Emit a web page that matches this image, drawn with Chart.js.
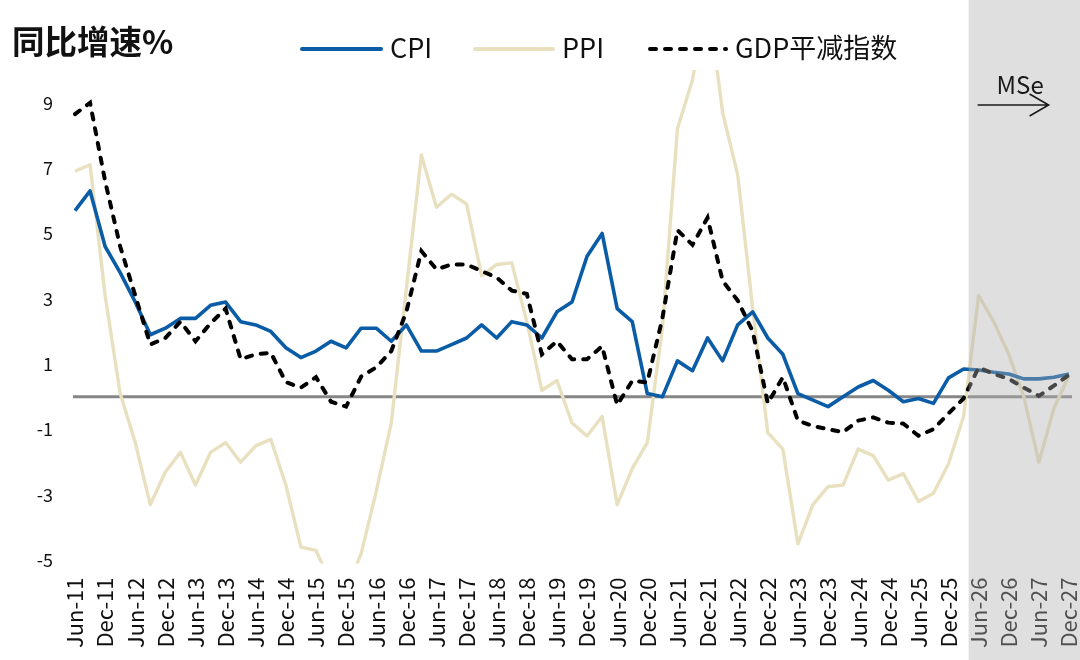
<!DOCTYPE html>
<html>
<head>
<meta charset="utf-8">
<script src="https://cdn.jsdelivr.net/npm/chart.js@4.4.0/dist/chart.umd.min.js"></script>
<style>
html,body{margin:0;padding:0;background:#ffffff;}
#wrap{width:1080px;height:660px;position:relative;}
</style>
</head>
<body>
<div id="wrap"><canvas id="c" width="1080" height="660"></canvas></div>
<script>
const categories = [
  'Jun-11','Sep-11','Dec-11',
  'Mar-12','Jun-12','Sep-12','Dec-12',
  'Mar-13','Jun-13','Sep-13','Dec-13',
  'Mar-14','Jun-14','Sep-14','Dec-14',
  'Mar-15','Jun-15','Sep-15','Dec-15',
  'Mar-16','Jun-16','Sep-16','Dec-16',
  'Mar-17','Jun-17','Sep-17','Dec-17',
  'Mar-18','Jun-18','Sep-18','Dec-18',
  'Mar-19','Jun-19','Sep-19','Dec-19',
  'Mar-20','Jun-20','Sep-20','Dec-20',
  'Mar-21','Jun-21','Sep-21','Dec-21',
  'Mar-22','Jun-22','Sep-22','Dec-22',
  'Mar-23','Jun-23','Sep-23','Dec-23',
  'Mar-24','Jun-24','Sep-24','Dec-24',
  'Mar-25','Jun-25','Sep-25','Dec-25',
  'Mar-26','Jun-26','Sep-26','Dec-26',
  'Mar-27','Jun-27','Sep-27','Dec-27'
];
const tickLabels = ['Jun-11','Dec-11','Jun-12','Dec-12','Jun-13','Dec-13','Jun-14','Dec-14','Jun-15','Dec-15','Jun-16','Dec-16','Jun-17','Dec-17','Jun-18','Dec-18','Jun-19','Dec-19','Jun-20','Dec-20','Jun-21','Dec-21','Jun-22','Dec-22','Jun-23','Dec-23','Jun-24','Dec-24','Jun-25','Dec-25','Jun-26','Dec-26','Jun-27','Dec-27'];

const cpi = [
  5.7, 6.3, 4.6,
  3.8, 2.9, 1.9, 2.1,
  2.4, 2.4, 2.8, 2.9,
  2.3, 2.2, 2.0, 1.5,
  1.2, 1.4, 1.7, 1.5,
  2.1, 2.1, 1.7, 2.2,
  1.4, 1.4, 1.6, 1.8,
  2.2, 1.8, 2.3, 2.2,
  1.8, 2.6, 2.9, 4.3,
  5.0, 2.7, 2.3, 0.1,
  0.0, 1.1, 0.8, 1.8,
  1.1, 2.2, 2.6, 1.8,
  1.3, 0.1, -0.1, -0.3,
  0.0, 0.3, 0.5, 0.2,
  -0.15, -0.05, -0.2, 0.58,
  0.85, 0.82, 0.75, 0.7,
  0.55, 0.55, 0.6, 0.7
];
const ppi = [
  6.9, 7.1, 3.1,
  0.1, -1.4, -3.3, -2.3,
  -1.7, -2.7, -1.7, -1.4,
  -2.0, -1.5, -1.3, -2.7,
  -4.6, -4.7, -5.7, -5.9,
  -4.8, -2.9, -0.8, 3.3,
  7.4, 5.8, 6.2, 5.9,
  3.7, 4.05, 4.1, 2.3,
  0.2, 0.5, -0.8, -1.2,
  -0.6, -3.3, -2.2, -1.4,
  2.1, 8.2, 9.7, 12.3,
  8.7, 6.8, 2.7, -1.1,
  -1.6, -4.5, -3.3, -2.75,
  -2.7, -1.6, -1.8, -2.55,
  -2.35, -3.2, -2.95, -2.05,
  -0.6, 3.1, 2.3, 1.3,
  0.0, -2.0, -0.35, 0.65
];
const gdpDeflator = [
  8.65, 9.0, 6.6,
  4.6, 3.1, 1.6, 1.8,
  2.3, 1.7, 2.25, 2.7,
  1.15, 1.3, 1.35, 0.45,
  0.28, 0.6, -0.15, -0.3,
  0.62, 0.9, 1.4, 2.6,
  4.46, 3.9, 4.05, 4.05,
  3.85, 3.65, 3.25, 3.15,
  1.3, 1.7, 1.15, 1.15,
  1.55, -0.25, 0.49, 0.44,
  2.4, 5.1, 4.65, 5.48,
  3.55, 2.95, 2.0, -0.2,
  0.6, -0.73, -0.89, -0.99,
  -1.08, -0.73, -0.63, -0.79,
  -0.82, -1.19, -0.99, -0.51,
  -0.05, 0.9, 0.7, 0.55,
  0.28, 0.03, 0.34, 0.67
];
const yTicks = [-5, -3, -1, 1, 3, 5, 7, 9];
const seriesNames = ['CPI', 'PPI', 'GDP平减指数'];
const titleText = '同比增速%';
const forecastText = 'MSe';
const forecastStartLabel = 'Mar-26';

const FONT = "'Noto Sans CJK SC','Noto Sans',sans-serif";
const COL_CPI = '#0b5ca6';
const COL_PPI = '#e9e0c0';
const COL_GDP = '#000000';
const GDP_DASH = [6, 9];

const decor = {
  id: 'decor',
  beforeDatasetsDraw(chart) {
    const ctx = chart.ctx, ys = chart.scales.y, ca = chart.chartArea;
    const y0 = ys.getPixelForValue(0);
    ctx.save();
    ctx.strokeStyle = '#868686';
    ctx.lineWidth = 3;
    ctx.beginPath();
    ctx.moveTo(ca.left - 2, y0);
    ctx.lineTo(ca.right + 3, y0);
    ctx.stroke();
    ctx.restore();
  },
  afterDraw(chart) {
    const ctx = chart.ctx, xs = chart.scales.x;
    const fi = categories.indexOf(forecastStartLabel);
    const p0 = xs.getPixelForValue(fi), p1 = xs.getPixelForValue(fi + 1);
    const sx = p0 + (p1 - p0) / 3;
    ctx.save();
    // forecast shading
    ctx.fillStyle = 'rgba(175,175,175,0.4)';
    ctx.fillRect(sx, 0, chart.width - sx, chart.height);
    // forecast label and arrow
    ctx.fillStyle = '#1a1a1a';
    ctx.font = '24px ' + FONT;
    ctx.textAlign = 'left';
    ctx.textBaseline = 'alphabetic';
    ctx.fillText(forecastText, sx + 28, 94);
    ctx.strokeStyle = '#1a1a1a';
    ctx.lineWidth = 1.6;
    ctx.beginPath();
    ctx.moveTo(sx + 9, 105);
    ctx.lineTo(sx + 80, 105);
    ctx.moveTo(sx + 61, 94);
    ctx.lineTo(sx + 80, 105);
    ctx.lineTo(sx + 61, 116);
    ctx.stroke();
    // title
    ctx.fillStyle = '#111';
    ctx.font = 'bold 32.5px ' + FONT;
    ctx.textBaseline = 'middle';
    ctx.fillText(titleText, 12, 42);
    // legend
    const items = [
      {name: seriesNames[0], color: COL_CPI, dash: [], x: 302, w: 79, lw: 4},
      {name: seriesNames[1], color: COL_PPI, dash: [], x: 475, w: 78, lw: 4},
      {name: seriesNames[2], color: COL_GDP, dash: GDP_DASH, x: 650, w: 76, lw: 4}
    ];
    ctx.font = '27px ' + FONT;
    items.forEach(it => {
      ctx.strokeStyle = it.color;
      ctx.lineWidth = it.lw;
      ctx.lineCap = 'round';
      ctx.setLineDash(it.dash);
      ctx.beginPath();
      ctx.moveTo(it.x, 49);
      ctx.lineTo(it.x + it.w, 49);
      ctx.stroke();
      ctx.setLineDash([]);
      ctx.fillStyle = '#111';
      ctx.fillText(it.name, it.x + it.w + 9, 48);
    });
    ctx.restore();
  }
};

new Chart(document.getElementById('c'), {
  type: 'line',
  data: {
    labels: categories,
    datasets: [
      {label: seriesNames[0], data: cpi, borderColor: COL_CPI, borderWidth: 3.6, pointRadius: 0, tension: 0, order: 1, borderJoinStyle: 'round'},
      {label: seriesNames[1], data: ppi, borderColor: COL_PPI, borderWidth: 3.4, pointRadius: 0, tension: 0, order: 2, borderJoinStyle: 'round'},
      {label: seriesNames[2], data: gdpDeflator, borderColor: COL_GDP, borderWidth: 4, borderDash: GDP_DASH, borderCapStyle: 'round', pointRadius: 0, tension: 0, order: 0}
    ]
  },
  options: {
    responsive: false,
    devicePixelRatio: 1,
    animation: false,
    layout: {padding: {top: 70, right: 11, left: 0, bottom: 0}},
    plugins: {legend: {display: false}, tooltip: {enabled: false}, title: {display: false}},
    scales: {
      x: {
        type: 'category',
        offset: false,
        grid: {display: false, drawTicks: false},
        border: {display: false},
        afterFit(s) { s.height = 96.5; s.paddingLeft = 0; s.paddingRight = 0; },
        ticks: {
          autoSkip: false,
          maxRotation: 90,
          minRotation: 90,
          padding: 14,
          color: '#111',
          font: {family: FONT, size: 22},
          callback(v, i) { const l = categories[i]; return tickLabels.includes(l) ? l : ''; }
        }
      },
      y: {
        min: -5.1,
        max: 10,
        grid: {display: false, drawTicks: false},
        border: {display: false},
        afterFit(s) { s.width = 75; s.paddingTop = 0; s.paddingBottom = 0; },
        afterBuildTicks(s) { s.ticks = yTicks.map(v => ({value: v})); },
        ticks: {
          padding: 22,
          color: '#111',
          font: {family: FONT, size: 18}
        }
      }
    }
  },
  plugins: [decor]
});
</script>
</body>
</html>
